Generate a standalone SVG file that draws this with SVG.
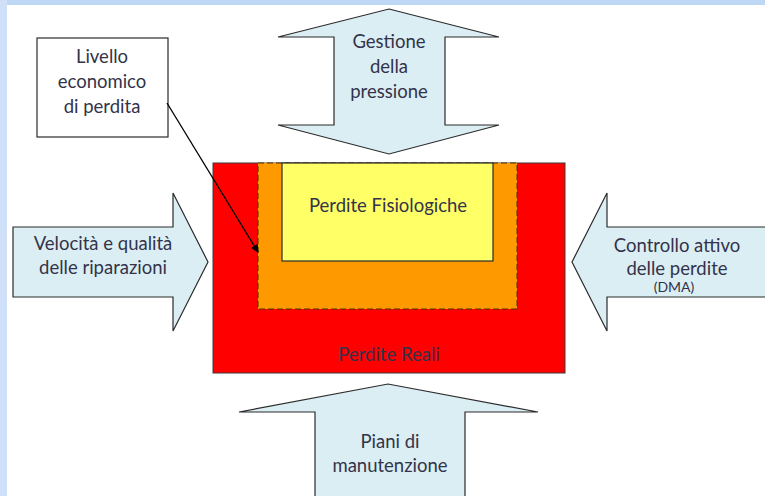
<svg xmlns="http://www.w3.org/2000/svg" width="765" height="496" viewBox="0 0 765 496">
  <style>
    .arrow { fill: #dbeef4; stroke: #2b2b2b; stroke-width: 1.2; stroke-linejoin: miter; }
    .lbl { font-family: Lato, "Open Sans", "Liberation Sans", sans-serif; font-size: 18.5px; fill: #33334a; text-anchor: middle; }
    .small { font-size: 14px; }
  </style>
  <defs>
    <marker id="tip" viewBox="0 0 10 10" refX="9" refY="5" markerWidth="8" markerHeight="8" orient="auto" markerUnits="userSpaceOnUse">
      <path d="M0,0 L10,5 L0,10 z" fill="#000"/>
    </marker>
  </defs>

  <!-- page background and frame bands -->
  <rect x="0" y="0" width="765" height="496" fill="#ffffff"/>
  <rect x="0" y="0" width="765" height="5" fill="#bdd7f5"/>
  <rect x="0" y="0" width="7" height="496" fill="#cfe0f8"/>

  <!-- nested loss areas -->
  <g id="perdite-reali">
    <rect x="213" y="163" width="352" height="210" fill="#ff0000" stroke="#3a3a3a" stroke-width="1"/>
    <text class="lbl" x="389" y="361">Perdite Reali</text>
  </g>
  <g id="livello-economico-area">
    <rect x="258" y="163" width="259" height="146" fill="#ff9900" stroke="#4a3000" stroke-width="1" stroke-dasharray="6,3"/>
  </g>
  <g id="perdite-fisiologiche">
    <rect x="282" y="163" width="211" height="98" fill="#ffff66" stroke="#2b2b2b" stroke-width="1.2"/>
    <text class="lbl" x="388" y="212">Perdite Fisiologiche</text>
  </g>

  <!-- pressure management: double arrow -->
  <g id="gestione-pressione">
    <path class="arrow" d="M389,9 L499,37 L445,37 L445,125 L499,125 L389,154 L278,125 L334,125 L334,37 L278,37 Z"/>
    <text class="lbl" x="389" y="48">Gestione</text>
    <text class="lbl" x="389" y="73">della</text>
    <text class="lbl" x="389" y="98">pressione</text>
  </g>

  <!-- repair speed and quality -->
  <g id="riparazioni">
    <path class="arrow" d="M13,227 L173,227 L173,193 L208,262 L173,331 L173,297 L13,297 Z"/>
    <text class="lbl" x="103" y="250">Velocità e qualità</text>
    <text class="lbl" x="103" y="274">delle riparazioni</text>
  </g>

  <!-- active leakage control -->
  <g id="controllo-attivo">
    <path class="arrow" d="M770,227 L607,227 L607,193 L572,262 L607,331 L607,297 L770,297"/>
    <text class="lbl" x="677" y="252">Controllo attivo</text>
    <text class="lbl" x="677" y="275">delle perdite</text>
    <text class="lbl small" x="674" y="292">(DMA)</text>
  </g>

  <!-- maintenance plans -->
  <g id="piani-manutenzione">
    <path class="arrow" d="M315,500 L315,412 L239,412 L388,384 L538,412 L465,412 L465,500"/>
    <text class="lbl" x="390" y="448">Piani di</text>
    <text class="lbl" x="390" y="472">manutenzione</text>
  </g>

  <!-- callout box -->
  <g id="livello-economico">
    <rect x="37" y="38" width="131" height="99" fill="#ffffff" stroke="#2b2b2b" stroke-width="1.2"/>
    <text class="lbl" x="102" y="63">Livello</text>
    <text class="lbl" x="102" y="88">economico</text>
    <text class="lbl" x="102" y="113">di perdita</text>
  </g>

  <g id="connectors">
    <line x1="167" y1="103" x2="258" y2="252" stroke="#000" stroke-width="1.3" marker-end="url(#tip)"/>
  </g>
</svg>
